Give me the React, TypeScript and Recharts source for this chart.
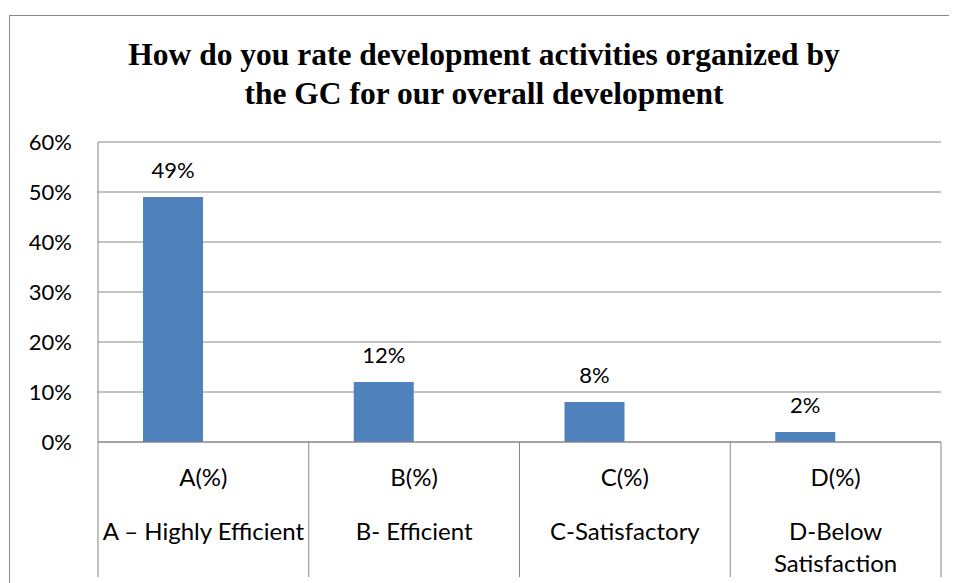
import { BarChart, Bar, XAxis, YAxis, CartesianGrid, LabelList } from 'recharts';

const categories = ['A(%)', 'B(%)', 'C(%)', 'D(%)'];
const descriptions = [['A – Highly Efficient'], ['B- Efficient'], ['C-Satisfactory'], ['D-Below', 'Satisfaction']];
const values = [49, 12, 8, 2];
const yTicks = [0, 10, 20, 30, 40, 50, 60];

const data = categories.map((name, i) => ({ name, value: values[i], desc: descriptions[i] }));

const GRID = '#868686';
const FONT = 'Lato, "Open Sans", sans-serif';

const TableTick = (props: any) => {
    const { x, y, payload, index } = props;
    const half = payload && payload.offset ? payload.offset : 105.4;
    const lines: string[] = descriptions[index] || [];
    return (
        <g>
            <line x1={x - half} y1={y} x2={x - half} y2={y + 135} stroke={GRID} />
            {index === categories.length - 1 && (
                <line x1={x + half} y1={y} x2={x + half} y2={y + 135} stroke={GRID} />
            )}
            <text x={x} y={y + 34} textAnchor="middle" dominantBaseline="central" fontSize={24} fontFamily={FONT} fill="#000">
                {payload.value}
            </text>
            {lines.map((l, i) => (
                <text key={l} x={x} y={y + 88 + i * 32} textAnchor="middle" dominantBaseline="central" fontSize={24} fontFamily={FONT} fill="#000">
                    {l}
                </text>
            ))}
        </g>
    );
};

const App = () => (
    <div style={{ position: 'relative', marginLeft: 1, marginTop: 7, width: 948, height: 567, borderTop: `1px solid ${GRID}`, borderLeft: `1px solid ${GRID}` }}>
        <div style={{ position: 'absolute', left: 0, top: 19, width: 948, textAlign: 'center', fontFamily: '"Liberation Serif", "Times New Roman", serif', fontWeight: 'bold', fontSize: 31.5, lineHeight: '39px', color: '#000' }}>
            How do you rate development activities organized by<br />the GC for our overall development
        </div>
        <BarChart width={947} height={567} data={data} margin={{ top: 126, right: 16, bottom: 6, left: 0 }} barGap={0} barSize={60}>
            <CartesianGrid vertical={false} stroke={GRID} />
            <XAxis dataKey="name" height={135} tickLine={false} tickSize={0} tickMargin={0} axisLine={{ stroke: GRID }} tick={<TableTick />} interval={0} />
            <YAxis width={88} domain={[0, 60]} ticks={yTicks} tickFormatter={(v: number) => `${v}%`} tickLine={false} tickSize={0} tickMargin={26} axisLine={{ stroke: GRID }} tick={{ fill: '#000', fontSize: 22, fontFamily: FONT }} />
            <Bar dataKey="value" fill="#4F81BD" isAnimationActive={false}>
                <LabelList dataKey="value" position="top" offset={19} formatter={(v: any) => `${v}%`} fill="#000" fontSize={22} fontFamily={FONT} />
            </Bar>
            <Bar dataKey="spacer" fill="#C0504D" isAnimationActive={false} />
        </BarChart>
    </div>
);

export default App;
